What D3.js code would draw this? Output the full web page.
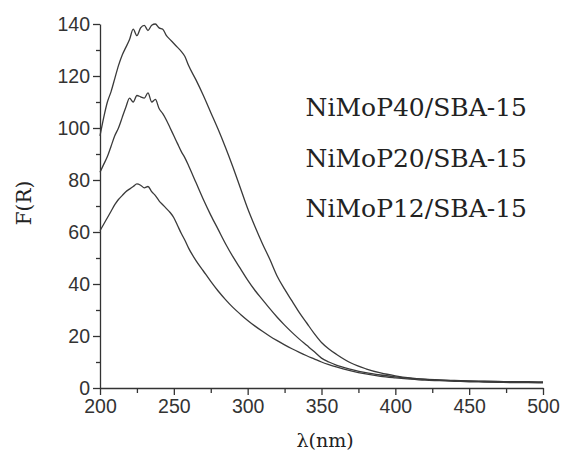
<!doctype html>
<html lang="en">
<head>
<meta charset="utf-8">
<title>F(R) vs wavelength</title>
<script src="https://cdn.jsdelivr.net/npm/d3@7"></script>
<style>
	body { margin: 0; background: #fff; }
	svg { display: block; }
	.tick text { font-family: "Liberation Sans", Arial, sans-serif; font-size: 19.5px; fill: #333; }
	.tick line, .domain { stroke: #333; stroke-width: 1.3; }
</style>
</head>
<body>
<svg id="chart" width="564" height="454"></svg>
<script>
// wavelength (nm)
var wavelength = [200,202.5,205,207.5,210,212.5,215,217.5,220,222.5,225,227.5,230,232.5,235,237.5,240,242.5,245,247.5,250,252.5,255,257.5,260,
	265,270,275,280,285,290,295,300,305,310,315,320,325,330,335,340,345,350,355,
	360,370,380,390,400,410,420,430,440,450,460,470,480,490,500];

var nimop40 = [97,104,110,114,119,124,128,131,134,138,135.5,138.5,139.5,137.5,139.5,140,138.5,138,135.5,134,132.5,131,129.5,127.5,124,
	118.5,112.5,106,99.5,92.5,85,77,69,62,55.5,49.5,43,38,33.5,29,25,21,17.5,15,
	13,9.6,7.4,5.8,4.7,3.9,3.4,3.1,2.9,2.7,2.6,2.5,2.4,2.4,2.3];

var nimop20 = [83,86,89,93,97,100,104,108,111.5,110,112.5,112,111.5,113.5,110,111,107.5,105.5,103,100,97,94,91,88.5,85.5,
	79,72.5,66.5,61,55.5,50.5,46,41.5,37.5,34,30.5,27.2,24.2,21.4,18.8,16.4,14,11.5,10,
	8.8,7.2,5.9,5,4.3,3.7,3.3,3,2.8,2.6,2.5,2.4,2.3,2.2,2.2];

var nimop12 = [60.5,63,65.5,68,70.5,72.5,74,75.5,76.5,77.5,78.5,78,77,77.5,75.5,74,72,70.5,69,67.5,65.5,62.5,59.5,56.8,53.8,
	49,45,41,37.3,34,31,28.4,26,23.8,21.8,19.9,18.2,16.6,15.1,13.7,12.4,11.2,10,9,
	8.1,6.6,5.4,4.5,3.9,3.4,3,2.8,2.6,2.4,2.3,2.2,2.1,2.1,2];

var seriesNames = ["NiMoP40/SBA-15", "NiMoP20/SBA-15", "NiMoP12/SBA-15"];
var xTicks = [200,250,300,350,400,450,500];
var yTicks = [0,20,40,60,80,100,120,140];

var svg = d3.select("#chart");

var xScale = d3.scaleLinear().domain([200,500]).range([100,543]);
var yScale = d3.scaleLinear().domain([0,140]).range([388,24]);

// minor ticks first, so major ones sit on top
svg.append("g")
	.attr("transform", "translate(0,388)")
	.call(d3.axisBottom(xScale).tickValues(d3.range(225,500,50)).tickSize(5).tickFormat(""))
	.select(".domain").remove();
svg.append("g")
	.attr("transform", "translate(100,0)")
	.call(d3.axisLeft(yScale).tickValues(d3.range(10,140,20)).tickSize(4).tickFormat(""))
	.select(".domain").remove();

// x axis
svg.append("g")
	.attr("transform", "translate(0,388)")
	.call(d3.axisBottom(xScale).tickValues(xTicks).tickSize(7).tickSizeOuter(0).tickPadding(4))
	.selectAll(".tick text").attr("dy", "0.74em");

// y axis
svg.append("g")
	.attr("transform", "translate(100,0)")
	.call(d3.axisLeft(yScale).tickValues(yTicks).tickSize(7).tickSizeOuter(0).tickPadding(3));

// curves
var line = d3.line()
	.curve(d3.curveMonotoneX)
	.x(function(d, i) { return xScale(wavelength[i]); })
	.y(function(d) { return yScale(d); });

[nimop40, nimop20, nimop12].forEach(function(s) {
	svg.append("path")
		.attr("d", line(s))
		.attr("fill", "none")
		.attr("stroke", "#3a3a3a")
		.attr("stroke-width", 1.3)
		.attr("stroke-linejoin", "round");
});

// labels for each curve
svg.selectAll("text.legend")
	.data(seriesNames)
	.enter()
	.append("text")
	.attr("class", "legend")
	.attr("x", 527)
	.attr("y", function(d, i) { return 116 + i * 50.5; })
	.attr("text-anchor", "end")
	.style("font-family", "'DejaVu Serif', serif")
	.style("font-size", "25px")
	.style("fill", "#222")
	.text(function(d) { return d; });

// axis titles
svg.append("text")
	.attr("x", 325)
	.attr("y", 447)
	.attr("text-anchor", "middle")
	.style("font-family", "'DejaVu Serif', serif")
	.style("font-size", "19px")
	.style("fill", "#222")
	.text("λ(nm)");

svg.append("text")
	.attr("transform", "translate(31,203) rotate(-90)")
	.attr("text-anchor", "middle")
	.style("font-family", "'DejaVu Serif', serif")
	.style("font-size", "20px")
	.style("fill", "#222")
	.text("F(R)");
</script>
</body>
</html>
